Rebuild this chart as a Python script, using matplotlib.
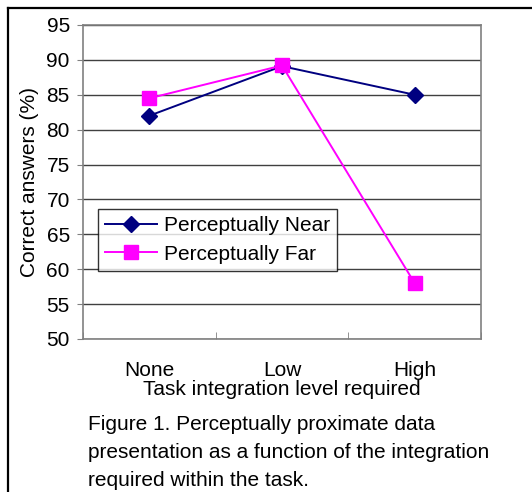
import matplotlib.pyplot as plt
from matplotlib.lines import Line2D

plt.rcParams['font.family'] = ['Liberation Sans', 'DejaVu Sans']

# data
levels = ['None', 'Low', 'High']
near = [82.0, 89.1, 85.0]
far = [84.5, 89.2, 58.0]
yticks = [50, 55, 60, 65, 70, 75, 80, 85, 90, 95]

W, H = 532, 492
fs = 15
fig = plt.figure(figsize=(W / 100, H / 100), dpi=100)

# outer frame (top and left only)
fig.add_artist(Line2D([8 / W, 1], [1 - 8 / H, 1 - 8 / H], color='black', lw=1.6))
fig.add_artist(Line2D([8 / W, 8 / W], [0, 1 - 8 / H], color='black', lw=1.6))

ax = fig.add_axes([83 / W, (H - 339) / H, (481 - 83) / W, (339 - 25) / H])
x = range(len(levels))
ax.plot(x, near, color='#000080', marker='D', markersize=8.5, lw=1.4, label='Perceptually Near')
ax.plot(x, far, color='#FF00FF', marker='s', markersize=9.5, lw=1.4, label='Perceptually Far')

ax.set_xlim(-0.5, 2.5)
ax.set_ylim(50, 95)
ax.set_yticks(yticks)
ax.set_xticks(x)
ax.set_xticklabels(levels, fontsize=fs)
ax.set_xticks([-0.5, 0.5, 1.5, 2.5], minor=True)
ax.tick_params(axis='x', which='major', length=0, pad=16)
ax.tick_params(axis='x', which='minor', length=5, color='#808080', direction='in')
ax.tick_params(axis='y', labelsize=fs, length=4.5, color='#808080', direction='out', pad=5)
ax.grid(axis='y', color='#404040', lw=1)
ax.set_axisbelow(True)
for s in ax.spines.values():
    s.set_color('#808080')
    s.set_linewidth(1.2)

ax.set_ylabel('Correct answers (%)', fontsize=fs, labelpad=5)
ax.set_xlabel('Task integration level required', fontsize=fs, labelpad=0)

leg = ax.legend(loc='upper left', bbox_to_anchor=(15 / 398, (339 - 209) / 314),
                fontsize=fs, frameon=True, fancybox=False, edgecolor='black',
                borderpad=0.35, handlelength=2.5, handletextpad=0.3,
                labelspacing=0.45, borderaxespad=0)
leg.get_frame().set_linewidth(1)

caption = ['Figure 1. Perceptually proximate data',
           'presentation as a function of the integration',
           'required within the task.']
for i, line in enumerate(caption):
    fig.text(88 / W, 1 - (424 + 28.5 * i) / H, line, fontsize=fs, va='center', ha='left')

fig.savefig('out.png', dpi=100)
